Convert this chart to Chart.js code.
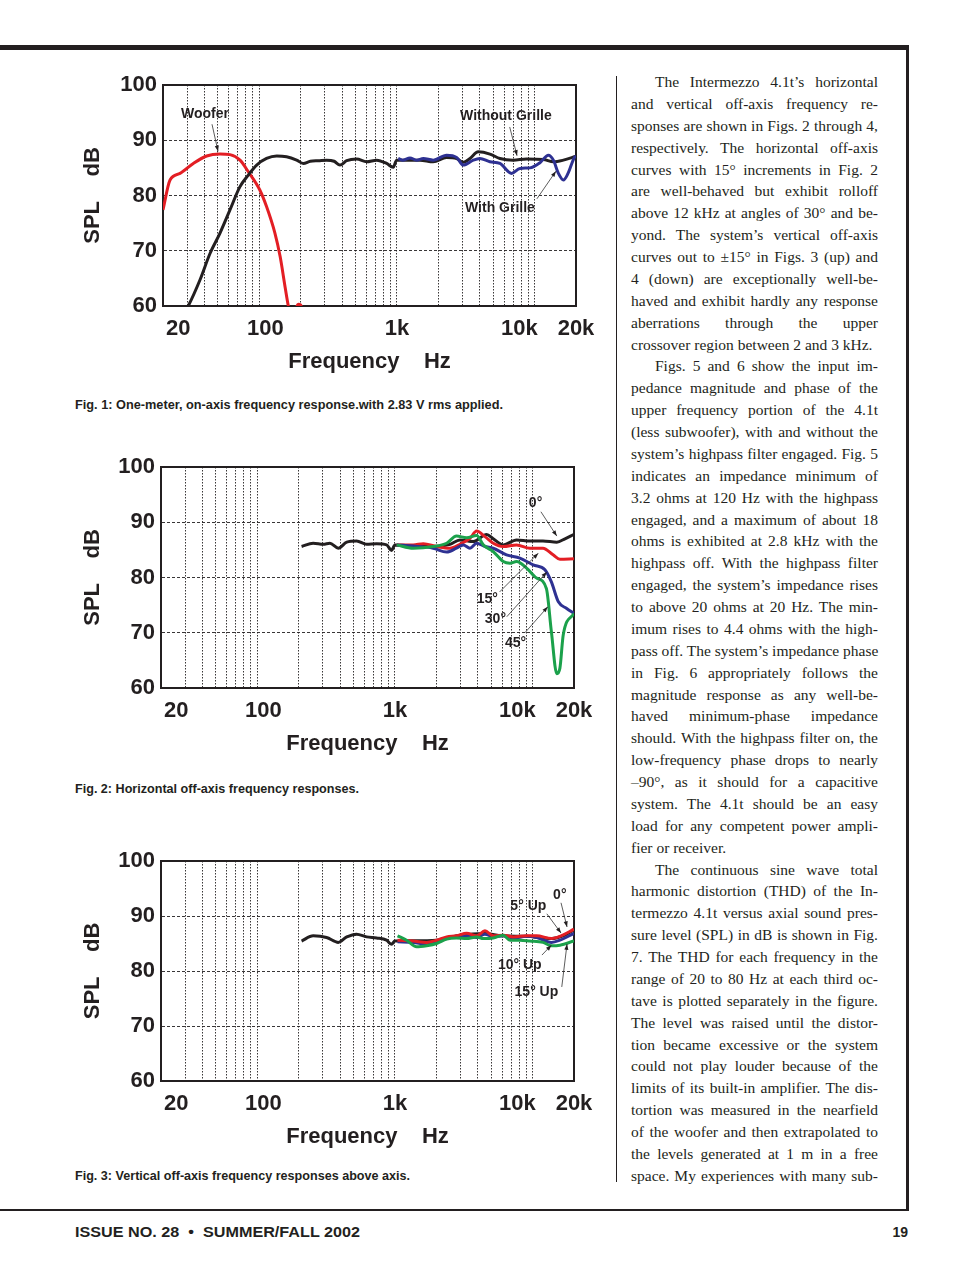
<!DOCTYPE html>
<html>
<head>
<meta charset="utf-8">
<script src="https://cdn.jsdelivr.net/npm/chart.js"></script>
<style>
html,body{margin:0;padding:0;background:#fff;}
body{width:954px;height:1272px;position:relative;overflow:hidden;font-family:'Liberation Sans',Arial,sans-serif;color:#231f20;}
.rule{position:absolute;background:#231f20;}
canvas{position:absolute;}
.cap{position:absolute;left:75px;font-weight:bold;font-size:13px;line-height:16px;white-space:nowrap;transform-origin:left center;}
#col{position:absolute;left:631px;top:71px;width:247px;font-family:'Liberation Serif','Times New Roman',serif;font-size:15.5px;line-height:21.88px;color:#231f20;}
#col div{white-space:nowrap;text-align:justify;text-align-last:justify;height:21.88px;}
#col div.ind{padding-left:24px;}
#col div.end{text-align-last:left;}
.foot{position:absolute;top:1223px;font-weight:bold;font-size:14px;line-height:18px;white-space:nowrap;transform-origin:left center;}
</style>
</head>
<body>
<div class="rule" style="left:0;top:45px;width:909px;height:5px"></div>
<div class="rule" style="left:906px;top:45px;width:3px;height:1166px"></div>
<div class="rule" style="left:0;top:1209px;width:909px;height:2px"></div>
<div class="rule" style="left:616px;top:76px;width:1px;height:1106px"></div>

<canvas id="fig1" width="545" height="320" style="left:60px;top:65px"></canvas>
<div class="cap" data-w="428" style="top:397px">Fig. 1: One-meter, on-axis frequency response.with 2.83 V rms applied.</div>

<canvas id="fig2" width="545" height="320" style="left:60px;top:447px"></canvas>
<div class="cap" data-w="284" style="top:781px">Fig. 2: Horizontal off-axis frequency responses.</div>

<canvas id="fig3" width="545" height="319" style="left:60px;top:841px"></canvas>
<div class="cap" data-w="335" style="top:1168px">Fig. 3: Vertical off-axis frequency responses above axis.</div>

<div id="col"></div>

<div class="foot" data-w="285" style="left:75px">ISSUE NO. 28 &nbsp;•&nbsp; SUMMER/FALL 2002</div>
<div class="foot" style="right:46px">19</div>

<script>
// grid + tick labels for the frequency axis
var gridHz = [20,30,40,50,60,70,80,90,100,200,300,400,500,600,700,800,900,1000,
  2000,3000,4000,5000,6000,7000,8000,9000,10000,20000];
var tickText = {20:'     20', 100:'  100', 1000:'1k', 10000:'10k     ', 20000:'20k'};

// Fig. 1
var f1WooferHz = [20,22.5,26.6,33.2,41.5,51.9,61.3,72.5,83.3,101,113,130,142,154,163,172,185,192,200,210];
var f1WooferDb = [77.4,82.8,84.0,85.8,87.15,87.5,87.4,86.4,84.3,81.0,78.0,73.2,68.9,63.5,59.9,57.5,59.6,60.3,60.2,58];
var f1NoGrilleHz = [28,30.5,37.1,43.9,51.9,61.3,72.5,83.3,95.8,113,134,158,187,209,235,270,309,350,386,432,510,603,713,843,940,996,
  1178,1470,1836,2296,2716,3034,3396,3898,4740,5604,7000,8750,11600,13700,16200,20000];
var f1NoGrilleDb = [58.5,60,64.7,69.5,73.2,77.4,81.6,83.7,85.5,86.7,87.15,87.0,86.4,85.8,86.2,86.3,86.4,86.2,85.5,86.3,86.6,86.1,86.4,85.8,85.1,86.4,
  86.4,86.4,86.1,86.9,86.7,86.0,86.7,87.9,87.5,86.7,86.4,86.6,86.5,86.1,86.4,87.1];
var f1GrilleHz = [1023,1096,1245,1390,1556,1836,2296,2716,3034,3588,4008,4740,5604,6808,7830,9250,10900,12600,13700,14900,16200,17500,19600,20000];
var f1GrilleDb = [86.7,86.4,86.8,86.4,86.7,86.4,87.3,86.9,85.5,86.4,86.7,86.1,85.8,84.0,84.9,85.0,85.9,87.3,86.4,84.0,82.8,84.0,87.0,87.1];

// Fig. 2
var f2Deg0Hz = [210,255,302,337,388,447,527,624,737,870,946,1000,1359,1898,2512,2967,3708,4636,5180,6125,7654,9570,11900,15000,17200,20000];
var f2Deg0Db = [85.6,86.2,86.0,86.2,85.3,86.4,86.6,86.0,86.1,85.9,84.9,85.9,85.7,85.6,86.0,86.8,86.5,87.8,87.0,85.9,86.8,86.6,86.6,86.4,87.0,87.8];
var f2Deg15Hz = [1030,1359,1608,2010,2512,2967,3508,3926,4510,5180,6125,7654,9570,11900,14100,15800,20000];
var f2Deg15Db = [85.9,85.9,86.1,85.6,85.3,86.0,87.1,88.4,87.4,86.2,85.6,85.9,85.3,85.3,84.1,83.3,83.4];
var f2Deg30Hz = [1030,1359,1898,2376,2800,3136,3508,3926,4510,5180,6470,8090,10100,12300,13700,15400,17700,20000];
var f2Deg30Db = [85.9,85.7,85.3,84.6,85.3,85.9,85.3,86.2,85.6,85.3,84.1,83.5,82.3,81.4,79.2,75.6,74.4,73.5];
var f2Deg45Hz = [1030,1359,1898,2376,2800,3320,3926,4386,5180,6125,6855,7654,9052,10700,12600,13700,15000,15800,16700,20000];
var f2Deg45Db = [85.9,85.3,85.6,86.2,87.5,87.2,87.6,85.9,84.7,82.9,82.6,82.9,81.7,79.9,78.0,70.2,62.6,63.6,69.6,73.5];

// Fig. 3
var f3Deg0Hz = [210,255,319,388,447,527,624,737,870,946,1000,1359,2010,3000,4500,6000,9000,13700,17000,20000];
var f3Deg0Db = [85.45,86.4,86.1,85.2,86.2,86.7,86.2,86.0,85.6,84.85,85.45,85.5,85.6,86.5,86.8,86.4,86.3,85.9,86.5,87.5];
var f3UpHz = [1045,1359,1700,2010,2376,2800,3320,3926,4510,5180,6125,7228,9052,10700,13700,15800,20000];
var f3Up5Db = [85.6,85.45,85.2,85.6,86.2,86.4,86.85,86.4,87.3,86.4,86.5,86.2,86.4,86.4,85.9,86.3,87.6];
var f3Up10Db = [85.3,85.2,84.85,85.45,85.9,86.3,86.4,86.1,86.7,86.2,86.4,86.0,86.3,86.1,85.2,85.6,86.85];
var f3Up15Hz = [1045,1217,1438,1700,2010,2376,2800,3320,3926,4386,5180,6125,6855,8090,9570,11900,13700,15800,20000];
var f3Up15Db = [86.4,85.6,84.4,84.6,85.0,85.8,86.0,85.9,86.2,85.9,86.0,86.5,85.6,85.6,85.45,85.2,84.6,84.7,85.45];

// callouts: label spot, arrow start, arrow tip (Hz, dB)
var f1Notes = [
  {text:'Woofer', at:[27,94.7], from:[45.4,92.9], to:[50.2,88.0]},
  {text:'Without Grille', at:[2876,94.4], from:[6600,92.4], to:[7460,87.2]},
  {text:'With Grille', at:[3124,77.7], from:[10400,79.4], to:[14300,84.4]}
];
var f2Notes = [
  {text:'0°', at:[9400,93.5], from:[11500,91.9], to:[15000,87.5]},
  {text:'15°', at:[3930,76.1], from:[5770,77.4], to:[11000,84.4]},
  {text:'30°', at:[4500,72.5], from:[6500,72.9], to:[12700,81.0]},
  {text:'45°', at:[6300,68.1], from:[8800,70.0], to:[12900,74.7]}
];
var f3Notes = [
  {text:'0°', at:[14100,93.8], from:[16100,92.4], to:[17800,88.0]},
  {text:'5° Up', at:[6900,91.8], from:[12700,90.4], to:[16100,86.9]},
  {text:'10° Up', at:[5600,81.1], from:[11700,82.9], to:[13700,84.7]},
  {text:'15° Up', at:[7400,76.2], from:[16300,77.1], to:[17800,84.9]}
];

var RED = '#e31e24', BLACK = '#231f20', BLUE = '#2e3192', GREEN = '#1ba14b';
var FONT = "'Liberation Sans', Arial, sans-serif";

function series(hz, db, color, order) {
  return {
    data: hz.map(function(f, i){ return {x: f, y: db[i]}; }),
    borderColor: color, borderWidth: 3, pointRadius: 0,
    cubicInterpolationMode: 'monotone', fill: false, order: order
  };
}

function notesPlugin(notes) {
  return {
    id: 'notes',
    beforeDatasetsDraw: function(chart) {
      var a = chart.chartArea, ctx = chart.ctx;
      ctx.save();
      ctx.strokeStyle = BLACK; ctx.lineWidth = 2;
      ctx.strokeRect(a.left, a.top, a.right - a.left, a.bottom - a.top);
      ctx.restore();
    },
    afterDatasetsDraw: function(chart) {
      var sx = chart.scales.x, sy = chart.scales.y, ctx = chart.ctx;
      ctx.save();
      ctx.font = 'bold 14px ' + FONT;
      ctx.textBaseline = 'middle';
      ctx.fillStyle = BLACK; ctx.strokeStyle = '#333'; ctx.lineWidth = 0.8;
      notes.forEach(function(n){
        ctx.fillText(n.text, sx.getPixelForValue(n.at[0]), sy.getPixelForValue(n.at[1]));
        var x1 = sx.getPixelForValue(n.from[0]), y1 = sy.getPixelForValue(n.from[1]);
        var x2 = sx.getPixelForValue(n.to[0]), y2 = sy.getPixelForValue(n.to[1]);
        ctx.beginPath(); ctx.moveTo(x1, y1); ctx.lineTo(x2, y2); ctx.stroke();
        var ang = Math.atan2(y2 - y1, x2 - x1);
        ctx.beginPath();
        ctx.moveTo(x2, y2);
        ctx.lineTo(x2 - 6 * Math.cos(ang - 0.35), y2 - 6 * Math.sin(ang - 0.35));
        ctx.lineTo(x2 - 6 * Math.cos(ang + 0.35), y2 - 6 * Math.sin(ang + 0.35));
        ctx.closePath(); ctx.fill();
      });
      ctx.restore();
    }
  };
}

function makeChart(id, yWidth, rightPad, datasets, notes) {
  var bold22 = {family: FONT, size: 22, weight: 'bold'};
  return new Chart(document.getElementById(id), {
    type: 'line',
    data: {datasets: datasets},
    options: {
      responsive: false, animation: false, devicePixelRatio: 1,
      layout: {padding: {top: 20, right: rightPad, left: 0, bottom: 0}},
      plugins: {legend: {display: false}, tooltip: {enabled: false}},
      scales: {
        x: {
          type: 'logarithmic', min: 20, max: 20000,
          afterBuildTicks: function(s){ s.ticks = gridHz.map(function(v){ return {value: v}; }); },
          afterFit: function(s){ s.height = 79; },
          grid: {color: BLACK, lineWidth: 0.9, drawTicks: false},
          border: {display: true, color: BLACK, width: 2, dash: [1.5, 1.5]},
          ticks: {autoSkip: false, maxRotation: 0, minRotation: 0, padding: 10, color: BLACK, font: bold22,
            callback: function(v){ var t = tickText[Math.round(v)]; return t === undefined ? '' : t; }},
          title: {display: true, text: 'Frequency    Hz', color: BLACK, font: bold22, padding: {top: 0, bottom: 10}}
        },
        y: {
          min: 60, max: 100,
          afterFit: function(s){ s.width = yWidth; },
          grid: {color: BLACK, lineWidth: 0.9, drawTicks: false},
          border: {display: true, color: BLACK, width: 2, dash: [3, 2]},
          ticks: {stepSize: 10, padding: 6, color: BLACK, font: bold22},
          title: {display: true, text: 'SPL    dB', color: BLACK, font: bold22, padding: {top: 20, bottom: 0}}
        }
      }
    },
    plugins: [notesPlugin(notes)]
  });
}

makeChart('fig1', 103, 29, [
  series(f1GrilleHz, f1GrilleDb, BLUE, 1),
  series(f1NoGrilleHz, f1NoGrilleDb, BLACK, 2),
  series(f1WooferHz, f1WooferDb, RED, 3)
], f1Notes);

makeChart('fig2', 101, 31, [
  series(f2Deg45Hz, f2Deg45Db, GREEN, 1),
  series(f2Deg30Hz, f2Deg30Db, BLUE, 2),
  series(f2Deg15Hz, f2Deg15Db, RED, 3),
  series(f2Deg0Hz, f2Deg0Db, BLACK, 4)
], f2Notes);

makeChart('fig3', 101, 31, [
  series(f3Up15Hz, f3Up15Db, GREEN, 1),
  series(f3UpHz, f3Up5Db, RED, 2),
  series(f3UpHz, f3Up10Db, BLUE, 3),
  series(f3Deg0Hz, f3Deg0Db, BLACK, 4)
], f3Notes);

// text column, one div per printed line
var colLines = [
  ['The Intermezzo 4.1t’s horizontal','ind'],
  ['and vertical off-axis frequency re-'],
  ['sponses are shown in Figs. 2 through 4,'],
  ['respectively. The horizontal off-axis'],
  ['curves with 15° increments in Fig. 2'],
  ['are well-behaved but exhibit rolloff'],
  ['above 12 kHz at angles of 30° and be-'],
  ['yond. The system’s vertical off-axis'],
  ['curves out to ±15° in Figs. 3 (up) and'],
  ['4 (down) are exceptionally well-be-'],
  ['haved and exhibit hardly any response'],
  ['aberrations through the upper'],
  ['crossover region between 2 and 3 kHz.','end'],
  ['Figs. 5 and 6 show the input im-','ind'],
  ['pedance magnitude and phase of the'],
  ['upper frequency portion of the 4.1t'],
  ['(less subwoofer), with and without the'],
  ['system’s highpass filter engaged. Fig. 5'],
  ['indicates an impedance minimum of'],
  ['3.2 ohms at 120 Hz with the highpass'],
  ['engaged, and a maximum of about 18'],
  ['ohms is exhibited at 2.8 kHz with the'],
  ['highpass off. With the highpass filter'],
  ['engaged, the system’s impedance rises'],
  ['to above 20 ohms at 20 Hz. The min-'],
  ['imum rises to 4.4 ohms with the high-'],
  ['pass off. The system’s impedance phase'],
  ['in Fig. 6 appropriately follows the'],
  ['magnitude response as any well-be-'],
  ['haved minimum-phase impedance'],
  ['should. With the highpass filter on, the'],
  ['low-frequency phase drops to nearly'],
  ['–90°, as it should for a capacitive'],
  ['system. The 4.1t should be an easy'],
  ['load for any competent power ampli-'],
  ['fier or receiver.','end'],
  ['The continuous sine wave total','ind'],
  ['harmonic distortion (THD) of the In-'],
  ['termezzo 4.1t versus axial sound pres-'],
  ['sure level (SPL) in dB is shown in Fig.'],
  ['7. The THD for each frequency in the'],
  ['range of 20 to 80 Hz at each third oc-'],
  ['tave is plotted separately in the figure.'],
  ['The level was raised until the distor-'],
  ['tion became excessive or the system'],
  ['could not play louder because of the'],
  ['limits of its built-in amplifier. The dis-'],
  ['tortion was measured in the nearfield'],
  ['of the woofer and then extrapolated to'],
  ['the levels generated at 1 m in a free'],
  ['space. My experiences with many sub-']
];
var col = document.getElementById('col');
colLines.forEach(function(l){
  var d = document.createElement('div');
  d.textContent = l[0];
  if (l[1]) d.className = l[1];
  col.appendChild(d);
  var ls = 0;
  while (d.scrollWidth > d.clientWidth + 0.5 && ls > -1) {
    ls -= 0.1;
    d.style.letterSpacing = ls + 'px';
  }
});

// squeeze captions / footer to the printed width
document.querySelectorAll('[data-w]').forEach(function(el){
  var w = el.getBoundingClientRect().width;
  el.style.transform = 'scaleX(' + (el.dataset.w / w) + ')';
});
</script>
</body>
</html>
